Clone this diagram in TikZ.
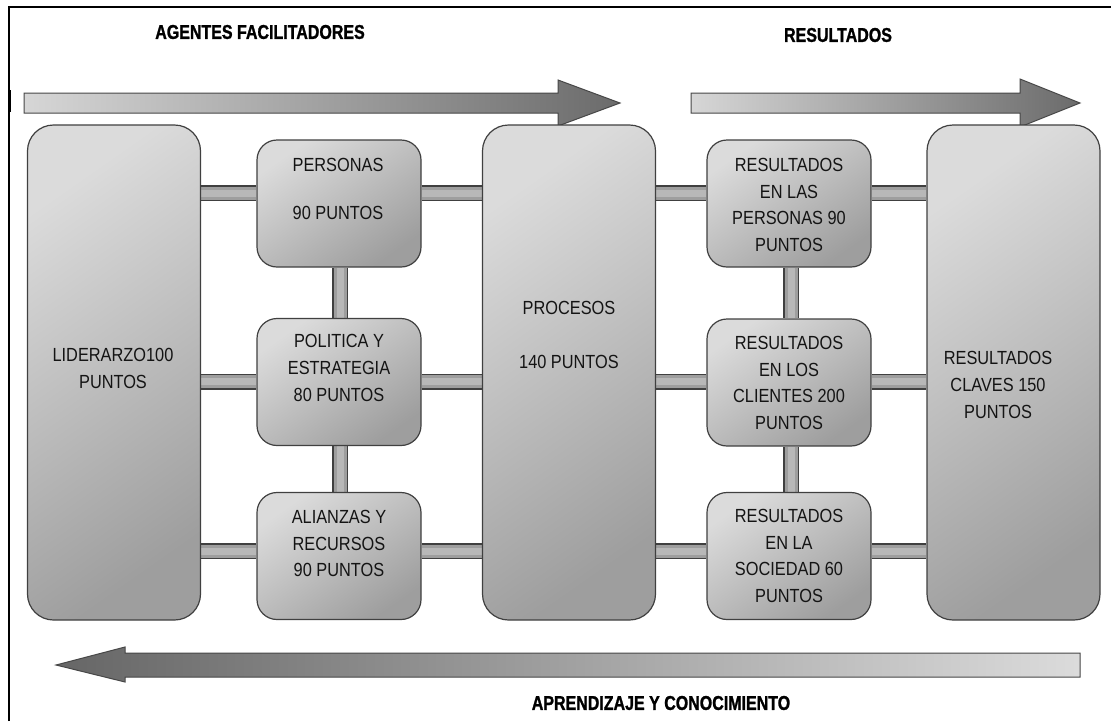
\documentclass[tikz,border=0pt]{standalone}
\usepackage{fontspec}
\setmainfont{Liberation Sans}
\newfontfamily\boxfont[FakeStretch=0.86]{Liberation Sans}
\newfontfamily\headfont[FakeStretch=0.8,FakeBold=1.2]{Liberation Sans}
\pgfdeclarelayer{background}
\pgfdeclarelayer{paper}
\pgfsetlayers{paper,background,main}
\begin{document}
\begin{tikzpicture}[x=1pt,y=-1pt,
  box/.style={rectangle, rounded corners=20pt, draw=black!75, line width=1.2pt,
    top color=black!14, bottom color=black!38, shading angle=35, inner sep=0pt},
  bigbox/.style={box, rounded corners=26pt, minimum width=173pt, minimum height=495pt},
  smallbox/.style={box, minimum width=164pt, minimum height=127pt},
  txt/.style={font=\boxfont\fontsize{19}{26.6}\selectfont, align=center, text=black!92, inner sep=0pt},
  head/.style={font=\headfont\bfseries\fontsize{20}{24}\selectfont, inner sep=0pt},
  bar/.style={line width=16pt, draw=black!75,
    postaction={draw=black!38, line width=13pt},
    postaction={draw=black!28, line width=7pt}},
  rarrow/.style={draw=black!72, line width=1pt, left color=black!16, right color=black!58},
  larrow/.style={draw=black!72, line width=1pt, left color=black!60, right color=black!14},
]
\begin{pgfonlayer}{paper}
\fill[white] (0,0) rectangle (1111,721);
\end{pgfonlayer}
\useasboundingbox (0,0) rectangle (1111,721);
% frame
\draw[line width=1.4pt] (9,721) -- (9,7) -- (1111,7);
\draw[line width=3pt] (9,90) -- (9,112);

% headings
\node[head] (h1) at (260,32) {AGENTES FACILITADORES};
\node[head] (h2) at (838,35) {RESULTADOS};
\node[head] (h3) at (661,703) {APRENDIZAJE Y CONOCIMIENTO};

% big arrows
\path[rarrow] (24,93) -- (558,93) -- (558,80) -- (620,103) -- (558,126) -- (558,113) -- (24,113) -- cycle;
\path[rarrow] (691,93) -- (1020,93) -- (1020,79) -- (1080,103) -- (1020,127) -- (1020,113) -- (691,113) -- cycle;
\path[larrow] (1080,653) -- (125,653) -- (125,647) -- (56,665) -- (125,682) -- (125,677) -- (1080,677) -- cycle;

% boxes
\node[bigbox] (lid) at (114,372.5) {};
\node[bigbox] (proc) at (569,372.5) {};
\node[bigbox] (clv) at (1013.5,372.5) {};
\node[smallbox] (pers) at (339,203.5) {};
\node[smallbox] (pol) at (339,382) {};
\node[smallbox] (ali) at (339,556) {};
\node[smallbox] (rp) at (789,203.5) {};
\node[smallbox] (rc) at (789,382.5) {};
\node[smallbox] (rs) at (789,556) {};

% texts
\node[txt] (tlid) at (113,368.5) {LIDERARZO100\\PUNTOS};
\node[txt] (tpers) at (338,189) {PERSONAS\\[21.4pt]90 PUNTOS};
\node[txt] (tpol) at (339,368) {POLITICA Y\\ESTRATEGIA\\80 PUNTOS};
\node[txt] (tali) at (339,543.5) {ALIANZAS Y\\RECURSOS\\90 PUNTOS};
\node[txt] (tproc) at (569,335) {PROCESOS\\[27.4pt]140 PUNTOS};
\node[txt] (trp) at (789,205) {RESULTADOS\\EN LAS\\PERSONAS 90\\PUNTOS};
\node[txt] (trc) at (789,383) {RESULTADOS\\EN LOS\\CLIENTES 200\\PUNTOS};
\node[txt] (trs) at (789,556) {RESULTADOS\\EN LA\\SOCIEDAD 60\\PUNTOS};
\node[txt] (tclv) at (998,385) {RESULTADOS\\CLAVES 150\\PUNTOS};

% bar levels
\coordinate (ya) at (0,193);
\coordinate (yb) at (0,381.5);
\coordinate (yc) at (0,551);

\begin{pgfonlayer}{background}
\draw[bar] (lid.east |- ya) -- (pers.west |- ya);
\draw[bar] (pers.east |- ya) -- (proc.west |- ya);
\draw[bar] (lid.east |- yb) -- (pol.west |- yb);
\draw[bar] (pol.east |- yb) -- (proc.west |- yb);
\draw[bar] (lid.east |- yc) -- (ali.west |- yc);
\draw[bar] (ali.east |- yc) -- (proc.west |- yc);
\draw[bar] (proc.east |- ya) -- (rp.west |- ya);
\draw[bar] (rp.east |- ya) -- (clv.west |- ya);
\draw[bar] (proc.east |- yb) -- (rc.west |- yb);
\draw[bar] (rc.east |- yb) -- (clv.west |- yb);
\draw[bar] (proc.east |- yc) -- (rs.west |- yc);
\draw[bar] (rs.east |- yc) -- (clv.west |- yc);
\draw[bar] ([xshift=1pt]pers.south) -- ([xshift=1pt]pol.north);
\draw[bar] ([xshift=1pt]pol.south) -- ([xshift=1pt]ali.north);
\draw[bar] ([xshift=2pt]rp.south) -- ([xshift=2pt]rc.north);
\draw[bar] ([xshift=2pt]rc.south) -- ([xshift=2pt]rs.north);
\end{pgfonlayer}
\end{tikzpicture}
\end{document}
